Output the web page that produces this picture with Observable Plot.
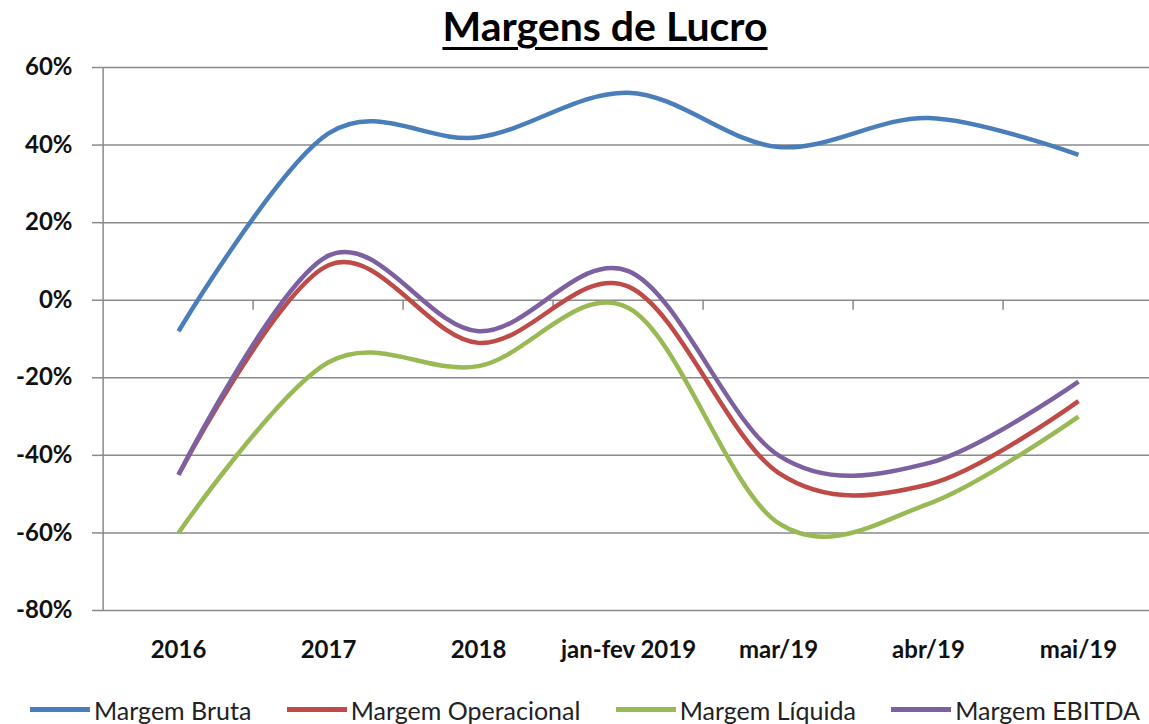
<!DOCTYPE html>
<html>
<head>
<meta charset="utf-8">
<script src="https://cdn.jsdelivr.net/npm/d3@7"></script>
<script src="https://cdn.jsdelivr.net/npm/@observablehq/plot@0.6"></script>
<style>
  html, body { margin: 0; padding: 0; background: #fff; }
  body { width: 1149px; height: 724px; position: relative; overflow: hidden; font-family: Lato, "Open Sans", sans-serif; }
  #title { position: absolute; top: 5px; left: 605px; transform: translateX(-50%); font-size: 41px; font-weight: bold; line-height: 1; white-space: nowrap; color: #000; text-decoration: underline; text-decoration-thickness: 2.5px; text-underline-offset: 6px; }
  #chart { position: absolute; top: 50px; left: 0; }
  #legend { position: absolute; top: 697px; left: 30px; width: 1110px; height: 26px; display: flex; align-items: center; justify-content: space-between; font-size: 25px; line-height: 1; white-space: nowrap; color: #222; }
  .item { display: flex; align-items: center; gap: 4px; }
  .sw { width: 60px; height: 5px; transform: translateY(-1px); }
</style>
</head>
<body>
<div id="title">Margens de Lucro</div>
<div id="chart"></div>
<div id="legend"></div>
<script>
const categories = ["2016", "2017", "2018", "jan-fev 2019", "mar/19", "abr/19", "mai/19"];
const seriesNames = ["Margem Bruta", "Margem Operacional", "Margem Líquida", "Margem EBITDA"];
const seriesColors = ["#4A7EBB", "#BE4B48", "#98B954", "#7D60A0"];
const margemBruta = [-0.08, 0.43, 0.42, 0.535, 0.395, 0.47, 0.375];
const margemOperacional = [-0.45, 0.09, -0.11, 0.035, -0.445, -0.475, -0.26];
const margemLiquida = [-0.60, -0.16, -0.17, -0.02, -0.575, -0.525, -0.30];
const margemEbitda = [-0.45, 0.115, -0.08, 0.075, -0.40, -0.42, -0.21];
const yTicks = [-0.8, -0.6, -0.4, -0.2, 0, 0.2, 0.4, 0.6];

const seriesValues = [margemBruta, margemOperacional, margemLiquida, margemEbitda];
const rows = seriesNames.flatMap((name, i) =>
  categories.map((cat, j) => ({serie: name, cat, value: seriesValues[i][j]}))
);

const gridColor = "#8a8a8a";
const half = -75.4;

const chart = Plot.plot({
  width: 1149,
  height: 620,
  marginTop: 17,
  marginBottom: 60,
  marginLeft: 100,
  marginRight: 0,
  style: {fontFamily: "Lato, 'Open Sans', sans-serif", background: "white", color: "#000"},
  x: {type: "point", domain: categories, range: [100, 1156], padding: 0.5},
  y: {domain: [-0.8, 0.6]},
  color: {domain: seriesNames, range: seriesColors},
  marks: [
    Plot.gridY(yTicks, {stroke: gridColor, strokeOpacity: 1, strokeWidth: 1.5}),
    Plot.ruleX([categories[0]], {x: d => d, dx: half, y1: -0.8, y2: 0.6, stroke: gridColor, strokeWidth: 1.5}),
    Plot.ruleX(categories.slice(1), {x: d => d, dx: half, y1: 0, y2: -0.026, stroke: gridColor, strokeWidth: 1.5}),
    Plot.axisY(yTicks, {
      tickFormat: d => Math.round(d * 100) + "%",
      tickSize: 8, tickPadding: 20, fontSize: 24, fontWeight: "bold",
      stroke: gridColor, strokeWidth: 1.5, fill: "#111", label: null
    }),
    Plot.axisX({tickSize: 0, tickPadding: 30, fontSize: 24, fontWeight: "bold", fill: "#111", label: null}),
    Plot.line(rows, {x: "cat", y: "value", z: "serie", stroke: "serie", strokeWidth: 4.5, curve: "cardinal", tension: 0, strokeLinecap: "butt"})
  ]
});
document.getElementById("chart").appendChild(chart);

const legend = document.getElementById("legend");
seriesNames.forEach((name, i) => {
  const item = document.createElement("div");
  item.className = "item";
  const sw = document.createElement("div");
  sw.className = "sw";
  sw.style.background = seriesColors[i];
  const t = document.createElement("span");
  t.textContent = name;
  item.appendChild(sw);
  item.appendChild(t);
  legend.appendChild(item);
});
</script>
</body>
</html>
